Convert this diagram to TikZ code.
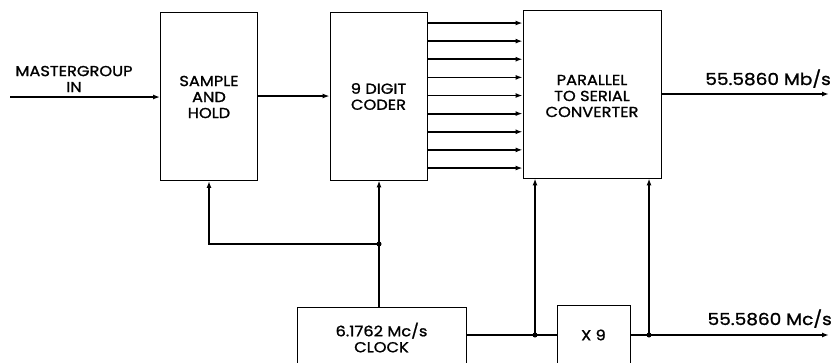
\documentclass[tikz,border=0pt]{standalone}
\usepackage{fontspec}
\setmainfont{Poppins}[FakeStretch=1.12,FakeBold=1.2]
\usetikzlibrary{arrows.meta}
\begin{document}
\begin{tikzpicture}[x=1pt,y=-1pt,
  blk/.style={draw,line width=0.9pt,inner sep=0pt},
  sig/.style={line width=1.8pt,-{Latex[length=7pt,width=5pt]}},
  wire/.style={line width=1.8pt},
  lbl/.style={font=\fontsize{14.5}{16}\selectfont,align=center,inner sep=0pt},
  big/.style={font=\fontsize{16.5}{18}\selectfont},
  junc/.style={circle,fill,inner sep=0pt,minimum size=5pt}]
\useasboundingbox (0,0) rectangle (834,362);
\clip (0,0) rectangle (834,362);
% boxes
\node[blk,minimum width=97pt,minimum height=168pt] (sh) at (209,96.5) {};
\node[blk,minimum width=97pt,minimum height=168pt] (cod) at (378.5,96) {};
\node[blk,minimum width=138pt,minimum height=168pt] (ps) at (592,94) {};
\node[blk,minimum width=169pt,minimum height=80pt] (clk) at (381.5,347) {};
\node[blk,minimum width=73pt,minimum height=80pt] (x9) at (593.5,345) {};
% labels
\node[lbl] at (74,79) {MASTERGROUP\\IN};
\node[lbl] at (209,97) {SAMPLE\\AND\\HOLD};
\node[lbl] at (378.5,96.5) {9 DIGIT\\CODER};
\node[lbl] at (592,96) {PARALLEL\\TO SERIAL\\CONVERTER};
\node[lbl] at (381.5,337.5) {6.1762 Mc/s\\CLOCK};
\node[lbl] at (593.5,335) {X 9};
\node[lbl,big,anchor=south east] at (831,88) {55.5860 Mb/s};
\node[lbl,big,anchor=south east] at (832,328) {55.5860 Mc/s};
% coordinates
\coordinate (in) at (10,97);
\coordinate (out1) at (829,94);
\coordinate (out2) at (829,335);
\coordinate (j1) at (379,244);
\coordinate (j2) at (535,335);
\coordinate (j3) at (649,335);
% main path
\draw[sig] (in) -- (in -| sh.west);
\draw[sig] (sh.east |- 0,96) -- (cod.west |- 0,96);
\foreach \y in {23,41.1,59.2,77.4,95.5,113.6,131.8,149.9,168} {
  \draw[sig] (cod.east |- 0,\y) -- (ps.west |- 0,\y);
}
\draw[sig] (ps.east |- out1) -- (out1);
% clock distribution
\draw[sig] (j1 |- clk.north) -- (j1 |- cod.south);
\draw[sig] (j1) -| (sh.south);
\draw[wire] (clk.east |- j2) -- (x9.west |- j2);
\draw[sig] (j2) -- (j2 |- ps.south);
\draw[sig] (x9.east |- j3) -- (out2);
\draw[sig] (j3) -- (j3 |- ps.south);
\node[junc] at (j1) {};
\node[junc] at (j2) {};
\node[junc] at (j3) {};
\end{tikzpicture}
\end{document}
